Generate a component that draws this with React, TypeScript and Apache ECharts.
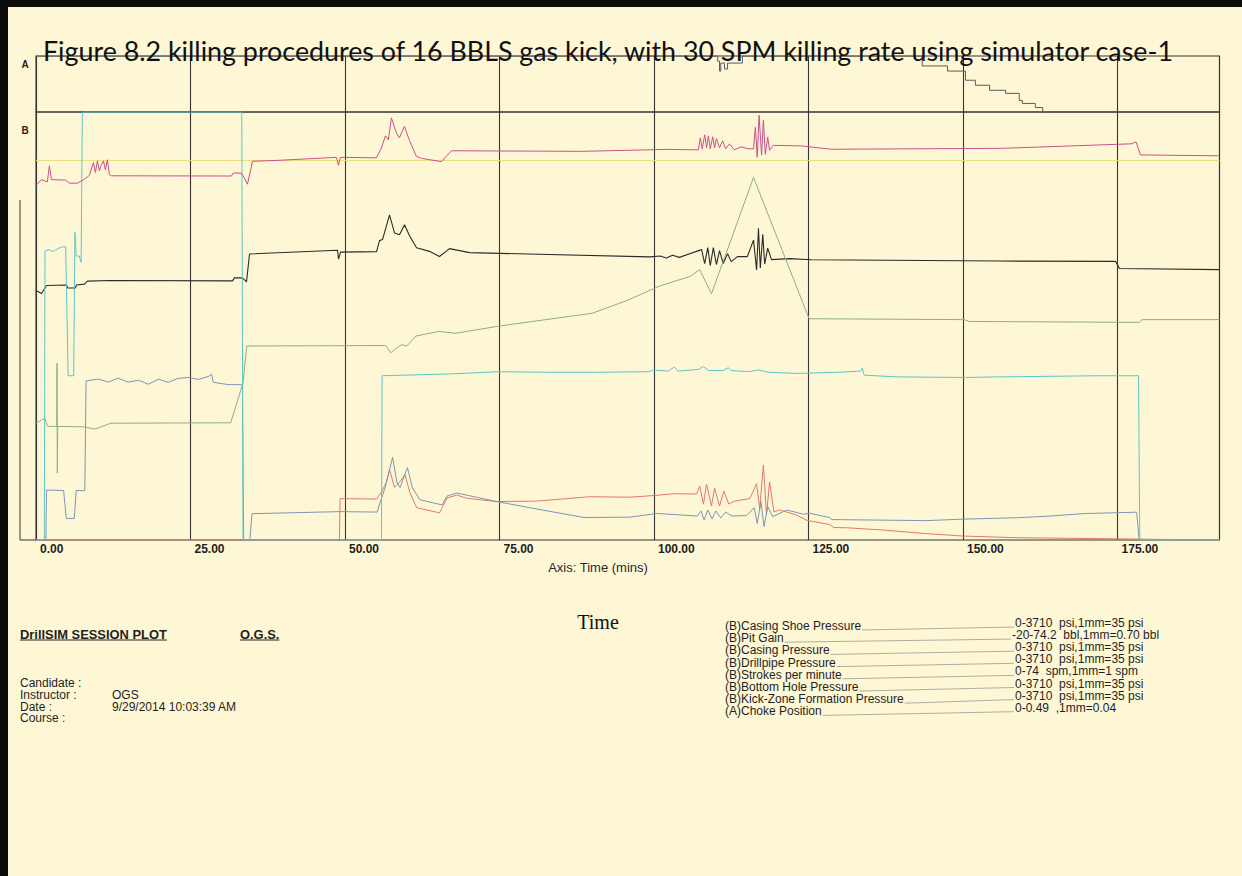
import React, { useEffect, useRef } from 'react';
import * as echarts from 'echarts';

// ---------- texts ----------
const TITLE = 'Figure 8.2 killing procedures of 16 BBLS gas kick, with 30 SPM killing rate using simulator case-1';
const AXIS_TITLE = 'Axis: Time (mins)';
const CAPTION = 'Time';
const SESSION_TITLE = 'DrillSIM SESSION PLOT';
const SESSION_ORG = 'O.G.S.';
const infoLabels = ['Candidate :', 'Instructor :', 'Date :', 'Course :'];
const infoValues = ['', 'OGS', '9/29/2014 10:03:39 AM', ''];

// ---------- axis ----------
const T_MAX = 191.5; // minutes at right frame edge
const TIME_STEP = 25;

// ---------- legend ----------
const seriesNames = [
  '(B)Casing Shoe Pressure',
  '(B)Pit Gain',
  '(B)Casing Pressure',
  '(B)Drillpipe Pressure',
  '(B)Strokes per minute',
  '(B)Bottom Hole Pressure',
  '(B)Kick-Zone Formation Pressure',
  '(A)Choke Position',
];
const seriesScales = [
  '0-3710  psi,1mm=35 psi',
  '-20-74.2  bbl,1mm=0.70 bbl',
  '0-3710  psi,1mm=35 psi',
  '0-3710  psi,1mm=35 psi',
  '0-74  spm,1mm=1 spm',
  '0-3710  psi,1mm=35 psi',
  '0-3710  psi,1mm=35 psi',
  '0-0.49  ,1mm=0.04',
];
const seriesColors = ['#2b2b2b', '#8fae82', '#e2786b', '#7c96b4', '#5cc7c9', '#c9508a', '#e6dd7c', '#5a5a5a'];

// ---------- data [time (min), value] ----------
const casingShoePressure = [
  [0, 2163], [0.89, 2137], [1.7, 2206], [4.94, 2211], [5.1, 2185], [6.39, 2185], [6.55, 2211], [7.85, 2218],
  [8.33, 2244], [11.89, 2249], [31.8, 2246], [32.12, 2272], [33.41, 2272], [34.06, 2237], [34.55, 2479],
  [48.79, 2512], [48.95, 2434], [49.27, 2495], [55.1, 2500], [55.58, 2595], [56.07, 2604], [57.2, 2818],
  [58.01, 2662], [58.82, 2645], [59.63, 2732], [60.44, 2637], [61.57, 2533], [63.67, 2502], [65.29, 2457],
  [66.91, 2526], [70.15, 2491], [99.27, 2454], [101, 2462], [102, 2444], [103, 2468], [104.1, 2450],
  [107.7, 2517], [108.2, 2396], [108.7, 2534], [109.1, 2379], [109.6, 2534], [110.1, 2388], [110.6, 2508],
  [111.2, 2396], [111.9, 2482], [112.5, 2413], [113.5, 2456], [115.1, 2456], [116.1, 2599], [116.6, 2340],
  [116.9, 2703], [117.2, 2357], [117.6, 2651], [117.9, 2392], [118.4, 2530], [119.0, 2430], [121.9, 2439],
  [125.5, 2429], [155.9, 2418], [174.7, 2415], [175.3, 2353], [191.5, 2344],
];
const pitGain = [
  [0, 5.7], [1.41, 6.8], [1.89, 5.0], [3.35, 5.0], [3.4, 18.9], [3.45, -5.3], [3.51, 5.0], [7.88, 4.9],
  [9.5, 4.4], [12.09, 5.7], [31.5, 5.8], [33.5, 14.6], [34.1, 22.7], [56.6, 22.8], [57.4, 21.2], [58.4, 22.3],
  [59.2, 23.0], [60.0, 22.7], [61.5, 24.9], [65.2, 25.9], [67.9, 25.5], [75.0, 27.1], [90.0, 29.9],
  [95.6, 32.7], [100.9, 35.9], [105.8, 38.0], [107.4, 39.5], [109.3, 34.2], [116.1, 59.8], [125.1, 28.7],
  [150.2, 28.5], [151.0, 28.1], [178.5, 27.9], [179.0, 28.5], [191.5, 28.5],
];
const casingPressure = [
  [0, 0], [49.1, 0], [49.2, 358], [55.1, 355], [55.9, 415], [56.7, 500], [57.2, 612], [58.0, 457], [58.8, 498],
  [59.7, 567], [60.5, 411], [61.6, 280], [65.3, 235], [66.5, 364], [68.1, 389], [69.7, 362], [74.5, 333],
  [81.0, 337], [89.6, 375], [96.1, 371], [100.1, 386], [103.2, 401], [106.9, 399], [107.4, 467], [108.0, 311],
  [108.5, 484], [109.3, 294], [109.8, 450], [110.6, 294], [111.3, 424], [112.1, 311], [112.9, 335],
  [115.5, 359], [116.6, 488], [117.1, 272], [117.7, 651], [118.2, 219], [118.7, 504], [119.4, 244],
  [120.3, 260], [121.5, 242], [123.1, 216], [124.7, 171], [128.4, 134], [129.1, 108], [131.2, 106],
  [137.2, 86], [144.1, 55], [150.1, 34], [158.7, 20], [178.1, 8], [190.2, 0], [191.5, 0],
];
const drillpipePressure = [
  [0, 0], [1.6, 0], [1.7, 433], [4.47, 429], [4.9, 187], [6.2, 187], [6.5, 429], [7.9, 427], [8.1, 1379],
  [10.1, 1395], [11.7, 1369], [13.3, 1403], [14.9, 1368], [16.6, 1385], [18.2, 1350], [19.8, 1393],
  [21.4, 1367], [23.0, 1401], [24.6, 1409], [26.3, 1392], [27.9, 1418], [28.4, 1436], [28.7, 1367],
  [31.1, 1347], [33.4, 1346], [33.6, 0], [34.6, 0], [34.95, 228], [49.2, 246], [55.2, 242], [55.7, 329],
  [56.5, 457], [57.7, 716], [58.4, 500], [58.9, 455], [60.1, 628], [60.9, 454], [62.1, 349], [65.7, 304],
  [66.5, 381], [68.1, 407], [74.6, 333], [81.1, 268], [88.7, 195], [96.1, 198], [100.5, 230], [107.0, 208],
  [107.6, 252], [108.1, 174], [108.7, 260], [109.4, 182], [110.0, 251], [110.8, 191], [111.6, 242],
  [112.6, 208], [115.0, 212], [116.2, 281], [116.7, 143], [117.3, 333], [117.8, 117], [118.4, 290],
  [119.2, 203], [121.5, 260], [124.2, 223], [125.2, 232], [128.4, 195], [128.8, 177], [144.1, 168],
  [150.1, 181], [158.7, 193], [164.0, 207], [169.5, 229], [178.1, 241], [178.5, 0], [191.5, 0],
];
const strokesPerMinute = [
  [0, 0], [1.35, 0], [1.45, 49.9], [2.0, 50.2], [2.8, 49.9], [3.6, 50.4], [4.3, 50.7], [4.8, 50.7],
  [5.2, 28.4], [6.1, 28.4], [6.3, 53.2], [6.5, 49.1], [7.0, 49.1], [7.3, 48.0], [7.5, 74], [33.3, 74],
  [33.5, 0], [55.9, 0], [56.0, 28.4], [66.7, 28.7], [74.8, 29.1], [82.9, 29.0], [91.0, 29.0], [99.1, 29.1],
  [99.9, 29.4], [102.3, 29.2], [103.3, 29.9], [103.9, 29.2], [107.2, 29.5], [108.0, 30.0], [108.8, 29.3],
  [111.2, 29.3], [112.0, 29.8], [112.5, 29.3], [115.3, 29.1], [116.9, 29.4], [118.5, 29.0], [123.4, 28.8],
  [129.8, 29.0], [133.4, 29.2], [133.7, 29.7], [134.0, 28.5], [139.5, 28.2], [150.4, 28.1], [155.7, 28.2],
  [171.9, 28.4], [178.4, 28.4], [178.6, 0], [191.5, 0],
];
const bottomHolePressure = [
  [0, 3071], [0.87, 3123], [1.84, 3105], [2.17, 3244], [2.49, 3123], [4.76, 3120], [5.42, 3093], [6.7, 3093],
  [7.83, 3127], [8.64, 3161], [9.29, 3272], [9.61, 3186], [9.94, 3287], [10.26, 3200], [10.58, 3252],
  [10.91, 3287], [11.23, 3209], [11.55, 3296], [11.88, 3166], [12.2, 3157], [31.62, 3155], [31.94, 3181],
  [33.24, 3180], [33.72, 3136], [34.21, 3084], [34.69, 3196], [35.02, 3283], [38.9, 3290], [48.61, 3317],
  [48.93, 3248], [49.26, 3317], [55.08, 3313], [55.89, 3399], [56.54, 3503], [57.02, 3469], [57.51, 3659],
  [58.32, 3529], [58.8, 3486], [59.61, 3586], [60.42, 3465], [61.55, 3326], [62.36, 3308], [65.6, 3280],
  [67.22, 3374], [88.25, 3369], [102.33, 3386], [107.18, 3382], [107.5, 3486], [107.8, 3391], [108.2, 3512],
  [108.5, 3400], [108.8, 3503], [109.1, 3391], [109.5, 3495], [109.8, 3400], [110.1, 3478], [110.6, 3400],
  [111.1, 3460], [111.6, 3391], [112.2, 3434], [113.0, 3382], [114.1, 3408], [115.3, 3391], [116.1, 3391],
  [116.4, 3577], [116.7, 3317], [117.0, 3681], [117.4, 3335], [117.7, 3637], [118.0, 3344], [118.4, 3491],
  [118.7, 3378], [119.3, 3421], [123.9, 3416], [128.7, 3387], [156.2, 3395], [177.2, 3434], [178.0, 3451],
  [178.7, 3338], [191.5, 3330],
];
const kickZonePressure = [[0, 3290], [191.5, 3290]];
const chokePosition = [
  [0, 0.49], [109.9, 0.49], [110.3, 0.445], [110.6, 0.358], [110.8, 0.428], [111.4, 0.376], [111.9, 0.428],
  [113.8, 0.428], [114.3, 0.49], [143.4, 0.403], [147.5, 0.358], [150.4, 0.278], [152.0, 0.234],
  [154.3, 0.19], [156.9, 0.163], [159.1, 0.101], [159.6, 0.075], [161.7, 0.039], [162.9, 0], [191.5, 0],
];

const seriesData = [
  casingShoePressure, pitGain, casingPressure, drillpipePressure,
  strokesPerMinute, bottomHolePressure, kickZonePressure, chokePosition,
];
// y axis used by each series: 0 choke (panel A), 1 psi, 2 bbl, 3 spm
const seriesYAxis = [1, 2, 1, 1, 3, 1, 1, 0];

// ---------- style ----------
const BG = '#fef7d6';
const FRAME = '#353535';
const SANS = '"Liberation Sans", Arial, sans-serif';

function textWidth(text: string, font: string): number {
  const ctx = document.createElement('canvas').getContext('2d');
  if (!ctx) return text.length * 6;
  ctx.font = font;
  return ctx.measureText(text).width;
}

function txt(x: number, y: number, text: string, size: number, opts: any = {}) {
  const align = opts.align || 'left';
  return {
    type: 'text', x, y, silent: true, z: 10,
    style: {
      text, fontSize: size, fontFamily: opts.family || SANS, fontWeight: opts.weight || 'normal',
      fill: opts.fill || '#1f1f1f', align, textAlign: align, verticalAlign: 'middle', textVerticalAlign: 'middle',
    },
  };
}

function hline(x1: number, y1: number, x2: number, y2: number, stroke: string, w = 1) {
  return { type: 'line', silent: true, z: 9, shape: { x1, y1, x2, y2 }, style: { stroke, lineWidth: w } };
}

function buildOption() {
  const gridLeft = 36;
  const gridWidth = 1183.5;
  const aTop = 56, aH = 56, bTop = 112, bH = 428;

  const titleSize = 20 * 1132 / textWidth(TITLE, '20px Lato');
  const sessSize = 12 * 147 / textWidth(SESSION_TITLE, 'bold 12px "Liberation Sans"');
  const sessW = textWidth(SESSION_TITLE, `bold ${sessSize}px "Liberation Sans"`);
  const orgW = textWidth(SESSION_ORG, `bold ${sessSize}px "Liberation Sans"`);

  const graphics: any[] = [
    { type: 'rect', silent: true, z: 0, shape: { x: 0, y: 0, width: 1242, height: 7 }, style: { fill: '#0b0b0b' } },
    { type: 'rect', silent: true, z: 0, shape: { x: 0, y: 0, width: 8, height: 876 }, style: { fill: '#0b0b0b' } },
    hline(20, 200, 20, bTop + bH, FRAME),
    hline(20, bTop + bH, gridLeft, bTop + bH, FRAME),
    txt(43, 51, TITLE, titleSize, { family: 'Lato, "Open Sans", sans-serif', fill: '#111' }),
    txt(25, 64, 'A', 10, { weight: 'bold', align: 'center' }),
    txt(25, 130, 'B', 10, { weight: 'bold', align: 'center' }),
    txt(598, 567, AXIS_TITLE, 13, { align: 'center', fill: '#2a2a2a' }),
    txt(598, 622, CAPTION, 20, { align: 'center', family: '"Liberation Serif", "Times New Roman", serif', fill: '#111' }),
    txt(20, 634, SESSION_TITLE, sessSize, { weight: 'bold' }),
    hline(20, 640, 20 + sessW, 640, '#222'),
    txt(240, 634, SESSION_ORG, sessSize, { weight: 'bold' }),
    hline(240, 640, 240 + orgW, 640, '#222'),
  ];
  infoLabels.forEach((l, i) => {
    const y = 683 + i * 11.8;
    graphics.push(txt(20, y, l, 12));
    if (infoValues[i]) graphics.push(txt(112, y, infoValues[i], 12));
  });
  seriesNames.forEach((name, i) => {
    const yN = 626 + i * 12.2;
    const yV = 623 + i * 12.1;
    const xV = seriesScales[i].startsWith('-') ? 1012 : 1015;
    const nW = textWidth(name, '12px "Liberation Sans"');
    graphics.push(hline(725 + nW + 1, yN + 4, xV - 1, yV + 4, '#9a9a92', 0.8));
    graphics.push(txt(725, yN, name, 12));
    graphics.push(txt(xV, yV, seriesScales[i], 12));
  });

  const xCommon = {
    type: 'value', min: 0, max: T_MAX, interval: TIME_STEP,
    axisLine: { show: false }, axisTick: { show: false },
    splitLine: { show: true, lineStyle: { color: FRAME, width: 1.1 } },
  };

  return {
    animation: false,
    backgroundColor: BG,
    grid: [
      { left: gridLeft, top: aTop, width: gridWidth, height: aH, show: true, borderColor: FRAME, borderWidth: 1.1, backgroundColor: 'transparent' },
      { left: gridLeft, top: bTop, width: gridWidth, height: bH, show: true, borderColor: FRAME, borderWidth: 1.1, backgroundColor: 'transparent' },
    ],
    xAxis: [
      { ...xCommon, gridIndex: 0, axisLabel: { show: false } },
      {
        ...xCommon, gridIndex: 1,
        axisLabel: {
          show: true, align: 'left', margin: 3, padding: [0, 0, 0, 4], fontSize: 12, fontWeight: 'bold',
          fontFamily: SANS, color: '#1e1e1e', showMaxLabel: false, showMinLabel: true,
          formatter: (v: number) => v.toFixed(2),
        },
      },
    ],
    yAxis: [
      { type: 'value', gridIndex: 0, min: 0, max: 0.49, show: false },
      { type: 'value', gridIndex: 1, min: 0, max: 3710, show: false },
      { type: 'value', gridIndex: 1, min: -20, max: 74.2, show: false },
      { type: 'value', gridIndex: 1, min: 0, max: 74, show: false },
    ],
    series: seriesNames.map((name, i) => ({
      name, type: 'line', data: seriesData[i],
      xAxisIndex: seriesYAxis[i] === 0 ? 0 : 1, yAxisIndex: seriesYAxis[i],
      showSymbol: false, symbol: 'none', silent: true,
      step: seriesYAxis[i] === 0 ? 'end' : false,
      lineStyle: { color: seriesColors[i], width: i === 0 ? 1.1 : 1 },
      z: i === 6 ? 1 : 2,
    })),
    graphic: { elements: graphics },
  };
}

export default function App() {
  const ref = useRef<HTMLDivElement>(null);
  useEffect(() => {
    document.body.style.margin = '0';
    const chart = echarts.init(ref.current as HTMLDivElement, null, { renderer: 'svg' });
    chart.setOption(buildOption() as any);
    return () => chart.dispose();
  }, []);
  return <div ref={ref} style={{ position: 'absolute', left: 0, top: 0, width: 1242, height: 876 }} />;
}
